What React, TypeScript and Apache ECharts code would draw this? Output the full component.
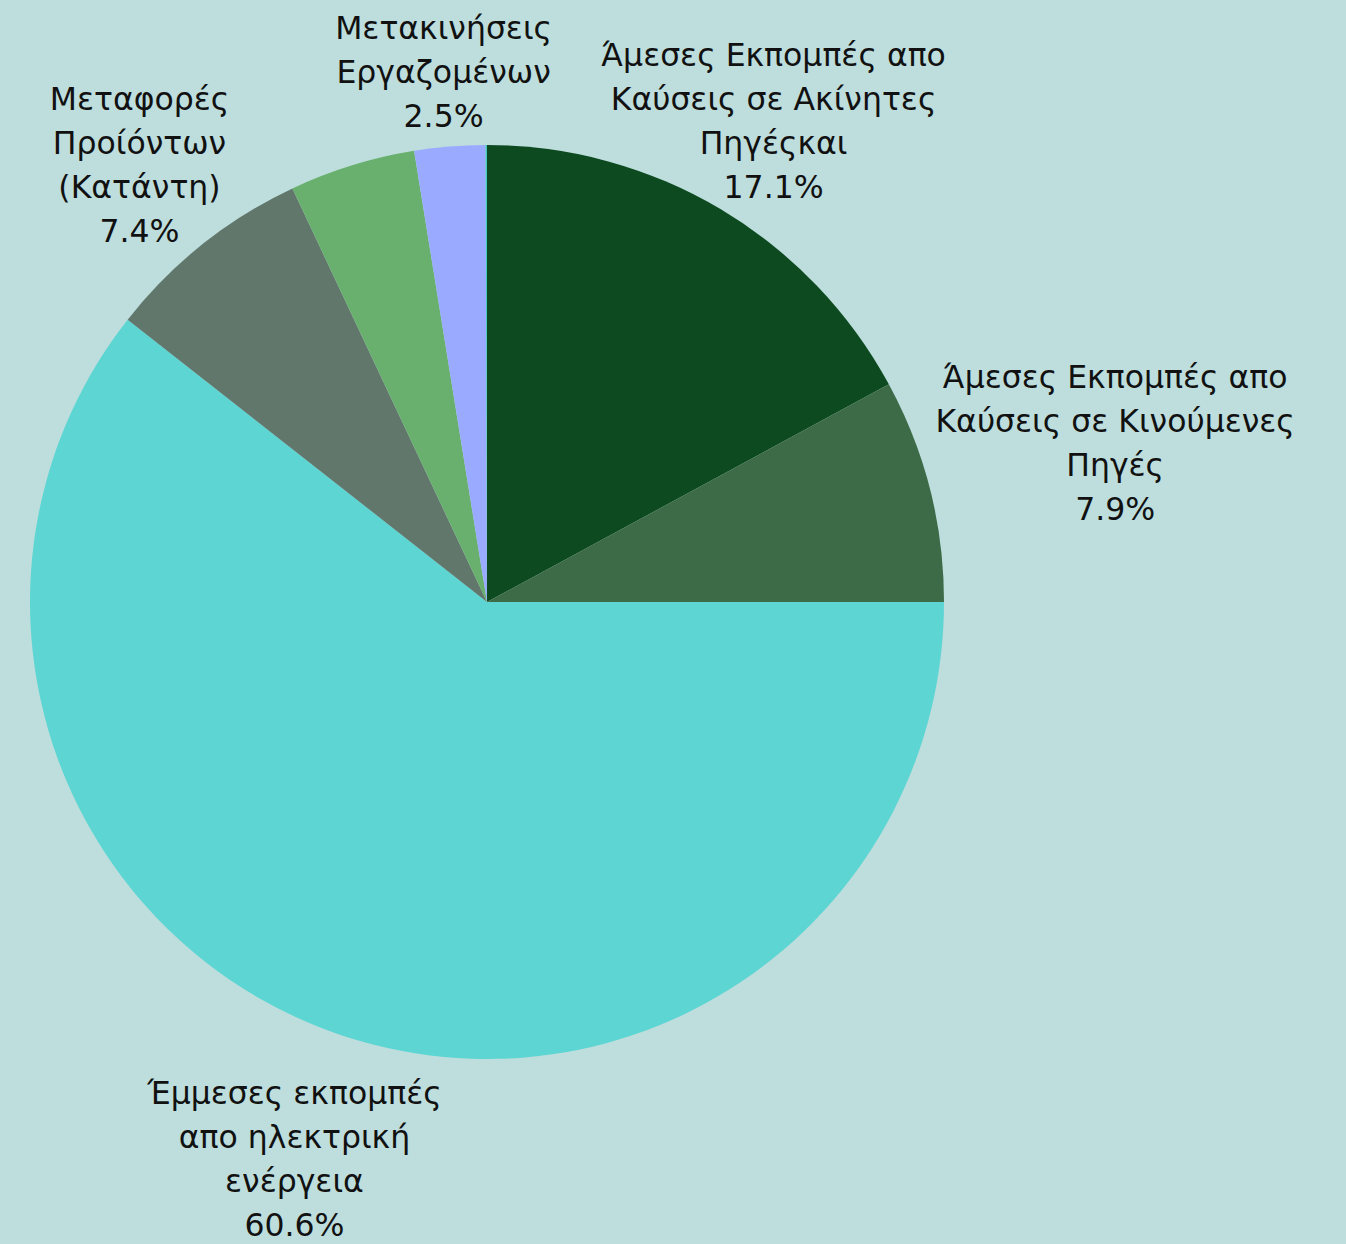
import React, { useEffect, useRef } from "react";
import * as echarts from "echarts";

// ---- data ----
const categories: string[] = [
  "Άμεσες Εκπομπές απο\nΚαύσεις σε Ακίνητες\nΠηγέςκαι",
  "Άμεσες Εκπομπές απο\nΚαύσεις σε Κινούμενες\nΠηγές",
  "Έμμεσες εκπομπές\nαπο ηλεκτρική\nενέργεια",
  "Μεταφορές\nΠροίόντων\n(Κατάντη)",
  "Λοιπά",
  "Μετακινήσεις\nΕργαζομένων",
  "Άλλα",
];
const values: number[] = [17.1, 7.9, 60.6, 7.4, 4.45, 2.5, 0.05];
const showLabel: boolean[] = [true, true, true, true, false, true, false];

// ---- styles / layout ----
const colors: string[] = ["#0d4a20", "#3d6b47", "#5dd5d3", "#62776c", "#69b06e", "#9aabff", "#45c8c0"];
const W = 1346;
const H = 1244;
const CX = 487;
const CY = 602;
const R = 457;
// radial distance (beyond the pie edge) of each label's centre
const labelOffset: number[] = [103, 191, 132, 101, 0, 75, 0];

export default function App() {
  const ref = useRef<HTMLDivElement>(null);
  useEffect(() => {
    if (!ref.current) return;
    const chart = echarts.init(ref.current, undefined, { renderer: "svg" });
    const total = values.reduce((a, b) => a + b, 0);
    const mids: number[] = [];
    let acc = 0;
    values.forEach((v) => {
      mids.push(((acc + v / 2) / total) * Math.PI * 2);
      acc += v;
    });
    chart.setOption({
      animation: false,
      backgroundColor: "#bddedd",
      series: [
        {
          type: "pie",
          center: [CX, CY],
          radius: [0, R],
          startAngle: 90,
          clockwise: true,
          avoidLabelOverlap: false,
          minAngle: 0,
          itemStyle: { borderWidth: 0 },
          emphasis: { disabled: true },
          labelLine: { show: false },
          label: {
            show: true,
            position: "outside",
            color: "#111111",
            fontFamily: "DejaVu Sans",
            fontSize: 31.5,
            lineHeight: 44,
            formatter: (p: any) => `${p.name}\n${Number(p.value).toFixed(1)}%`,
          },
          labelLayout: (params: any) => {
            const i = params.dataIndex;
            const d = R + labelOffset[i];
            return {
              x: CX + d * Math.sin(mids[i]),
              y: CY - d * Math.cos(mids[i]),
              align: "center",
              verticalAlign: "middle",
            };
          },
          data: values.map((v, i) => ({
            name: categories[i],
            value: v,
            itemStyle: { color: colors[i] },
            label: { show: showLabel[i] },
          })),
        },
      ],
    });
    return () => chart.dispose();
  }, []);
  return (
    <div
      ref={ref}
      style={{ position: "fixed", left: 0, top: 0, width: W, height: H }}
    />
  );
}
